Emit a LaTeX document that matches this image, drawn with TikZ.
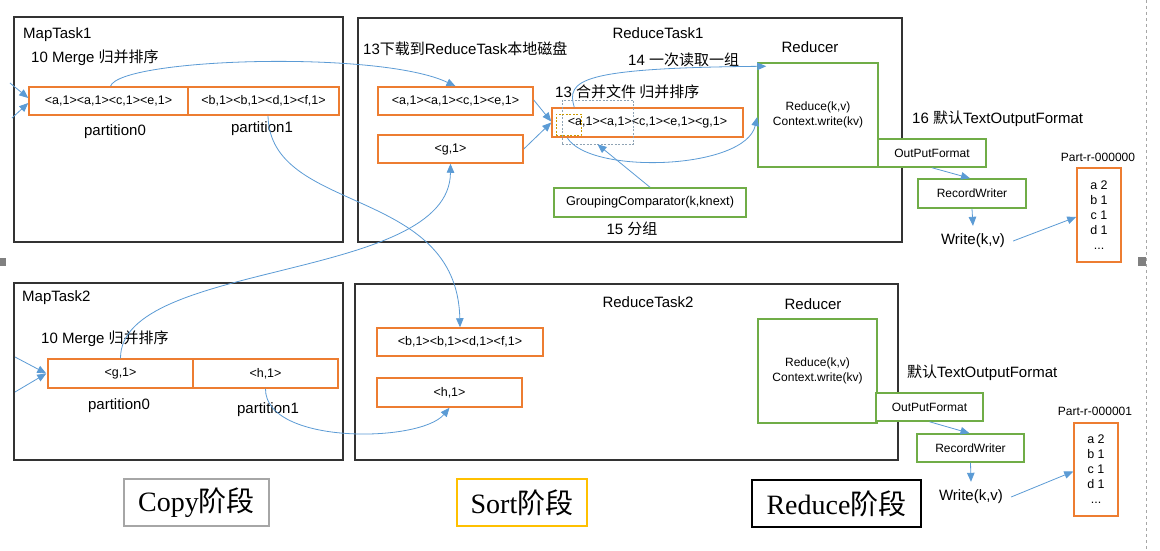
\documentclass[tikz,border=0pt]{standalone}
\usepackage{fontspec}
\setmainfont{Liberation Sans}
\newfontfamily\cjk{Noto Sans CJK SC}
\newfontfamily\serifl{Liberation Serif}
\usetikzlibrary{arrows.meta,calc}
\definecolor{bor}{HTML}{ED7D31}
\definecolor{bgr}{HTML}{70AD47}
\definecolor{bbl}{HTML}{5B9BD5}
\definecolor{bdk}{HTML}{333333}
\definecolor{bgy}{HTML}{A6A6A6}
\definecolor{byl}{HTML}{FFC000}
\begin{document}
\begin{tikzpicture}[x=1pt,y=-1pt,
  task/.style={draw=bdk,line width=1.6pt,inner sep=0pt},
  obox/.style={draw=bor,line width=1.5pt,fill=white,inner sep=0pt,font=\fontsize{12.5}{14}\selectfont},
  gbox/.style={draw=bgr,line width=1.5pt,fill=white,inner sep=0pt,font=\fontsize{12}{15}\selectfont,align=center},
  lbl/.style={inner sep=0pt,font=\fontsize{15}{18}\selectfont},
  slbl/.style={inner sep=0pt,font=\fontsize{12}{14}\selectfont},
  stage/.style={line width=1.3pt,inner sep=0pt,font=\serifl\fontsize{28}{32}\selectfont},
  conn/.style={draw=bbl,line width=0.8pt,-{Triangle[length=9pt,width=7.5pt]}},
  wr/.style={inner xsep=8pt,inner ysep=8pt,font=\fontsize{15}{18}\selectfont},
  part/.style={draw=bor,line width=1.5pt,inner sep=0pt,align=center,font=\fontsize{12.5}{15}\selectfont}]
\useasboundingbox (0,0) rectangle (1160,551);
\fill[white] (0,0) rectangle (1160,551);
% side marks
\draw[bgy,line width=0.8pt,dashed,dash pattern=on 3pt off 3pt] (1146,0) -- (1146,551);
\fill[gray] (0,258) rectangle (6,266);
\fill[gray] (1138,257) rectangle (1146,266);

% ---------- task frames ----------
\node[task,minimum width=329pt,minimum height=225pt] (mt1) at (178.5,129.5) {};
\node[task,minimum width=544pt,minimum height=224pt] (rt1) at (630,130) {};
\node[task,minimum width=329pt,minimum height=177pt] (mt2) at (178.5,371.5) {};
\node[task,minimum width=543pt,minimum height=176pt] (rt2) at (626.5,372) {};

% ---------- MapTask1 ----------
\node[lbl,anchor=west] (mt1t) at (23,35) {MapTask1};
\node[lbl,anchor=west] (mt1m) at (31,58) {10 Merge {\cjk 归并排序}};
\node[obox,minimum width=159pt,minimum height=28pt] (p10) at (108.5,101) {<a,1><a,1><c,1><e,1>};
\node[obox,minimum width=151pt,minimum height=28pt] (p11) at (263.5,101) {<b,1><b,1><d,1><f,1>};
\node[lbl] (p10t) at (115,132) {partition0};
\node[lbl] (p11t) at (262,129) {partition1};
\coordinate (l1) at (10,83);
\coordinate (l2) at (12,118);
\draw[conn] (l1) -- ([yshift=3pt]p10.west);
\draw[conn] (l2) -- ([yshift=-2pt]p10.west);

% ---------- MapTask2 ----------
\node[lbl,anchor=west] (mt2t) at (22,298) {MapTask2};
\node[lbl,anchor=west] (mt2m) at (41,339) {10 Merge {\cjk 归并排序}};
\node[obox,minimum width=145pt,minimum height=29pt] (p20) at (120.5,373.5) {<g,1>};
\node[obox,minimum width=145pt,minimum height=29pt] (p21) at (265.5,373.5) {<h,1>};
\node[lbl] (p20t) at (119,406) {partition0};
\node[lbl] (p21t) at (268,410) {partition1};
\coordinate (l3) at (15,357);
\coordinate (l4) at (15,392);
\draw[conn] (l3) -- ([xshift=-1pt]p20.west);
\draw[conn] (l4) -- ([xshift=-1pt]p20.west);

% ---------- ReduceTask1 ----------
\node[lbl] (rt1t) at (658,33) {ReduceTask1};
\node[lbl,anchor=west] (dl) at (363,49) {13{\cjk 下载到}ReduceTask{\cjk 本地磁盘}};
\node[lbl,anchor=west] (rd14) at (628,60) {14 {\cjk 一次读取一组}};
\node[lbl,anchor=west] (mg13) at (555,92) {13 {\cjk 合并文件 归并排序}};
\node[obox,minimum width=155pt,minimum height=28pt] (r1a) at (455.5,101) {<a,1><a,1><c,1><e,1>};
\node[obox,minimum width=145pt,minimum height=28pt] (r1g) at (450.5,149) {<g,1>};
\node[obox,minimum width=191pt,minimum height=29pt] (mg) at (647.5,122.5) {<a,1><a,1><c,1><e,1><g,1>};
\node[draw=bgy!70!bbl,line width=0.6pt,dashed,dash pattern=on 2pt off 1.5pt,minimum width=71pt,minimum height=44pt,inner sep=0pt] (dsh) at (597.5,122) {};
\node[draw=byl!80!black,line width=0.6pt,dashed,dash pattern=on 2pt off 1.5pt,minimum width=25pt,minimum height=21pt,inner sep=0pt] (ysh) at (568.5,124.5) {};
\node[gbox,minimum width=192pt,minimum height=29pt,font=\fontsize{12.7}{15}\selectfont] (gc) at (650,202.5) {GroupingComparator(k,knext)};
\node[lbl] (fz) at (632,229) {15 {\cjk 分组}};
\node[lbl] (red1t) at (810,47) {Reducer};
\node[gbox,minimum width=120pt,minimum height=104pt] (red1) at (818,115) {Reduce(k,v)\\Context.write(kv)};
\node[lbl,anchor=west] (tof1) at (912,119) {16 {\cjk 默认}TextOutputFormat};
\node[gbox,minimum width=108pt,minimum height=28pt] (opf1) at (932,153) {OutPutFormat};
\node[gbox,minimum width=108pt,minimum height=29pt] (rw1) at (972,193.5) {RecordWriter};
\node[wr] (w1) at (973,241) {Write(k,v)};
\node[slbl] (pr1t) at (1098,157) {Part-r-000000};
\node[part,minimum width=44pt,minimum height=94pt] (pr1) at (1099,215) {a 2\\b 1\\c 1\\d 1\\...};

% ---------- ReduceTask2 ----------
\node[lbl] (rt2t) at (648,302) {ReduceTask2};
\node[obox,minimum width=166pt,minimum height=28pt] (r2b) at (460,342) {<b,1><b,1><d,1><f,1>};
\node[obox,minimum width=145pt,minimum height=29pt] (r2h) at (449.5,392.5) {<h,1>};
\node[lbl] (red2t) at (813,304) {Reducer};
\node[gbox,minimum width=119pt,minimum height=104pt] (red2) at (817.5,371) {Reduce(k,v)\\Context.write(kv)};
\node[lbl,anchor=west] (tof2) at (907,373) {{\cjk 默认}TextOutputFormat};
\node[gbox,minimum width=107pt,minimum height=28pt] (opf2) at (929.5,407) {OutPutFormat};
\node[gbox,minimum width=107pt,minimum height=28pt] (rw2) at (970.5,448) {RecordWriter};
\node[wr] (w2) at (971,497) {Write(k,v)};
\node[slbl] (pr2t) at (1095,411) {Part-r-000001};
\node[part,minimum width=44pt,minimum height=93pt] (pr2) at (1096,469.5) {a 2\\b 1\\c 1\\d 1\\...};

% ---------- connectors ----------
\draw[conn] ([xshift=2pt]p10.north) .. controls (120,58) and (380,50) .. (r1a.north);
\draw[conn] ([xshift=4.5pt]p11.south) .. controls (270,215) and (457,185) .. (r2b.north);
\draw[conn] (p20.north) .. controls (120,260) and (450,282) .. (r1g.south);
\draw[conn] (p21.south) .. controls (265,445) and (420,443) .. (r2h.south);
\draw[conn] ([yshift=1pt]r1a.east) -- ([yshift=1pt]mg.west);
\draw[conn] (r1g.east) -- (mg.west);
\draw[conn] ([xshift=23pt]mg.north west) .. controls (566,80) and (580,68) .. ([xshift=9pt,yshift=-4pt]red1.north west);
\draw[conn] ([xshift=16pt]mg.south west) .. controls (590,175) and (745,170) .. ([yshift=-2pt]red1.west);
\draw[conn] (gc.north) -- (dsh.south);
\draw[conn] (opf1.south) -- ([xshift=-2pt]rw1.north);
\draw[conn] (rw1.south) -- (w1.north);
\draw[conn] (w1.east) -- ([yshift=-2pt]pr1.west);
\draw[conn] (opf2.south) -- ([xshift=-1pt]rw2.north);
\draw[conn] (rw2.south) -- (w2.north);
\draw[conn] (w2.east) -- ([yshift=-2pt]pr2.west);

% ---------- stage labels ----------
\node[stage,draw=bgy,minimum width=145pt,minimum height=47pt] (cp) at (196.5,502.5) {Copy{\cjk 阶段}};
\node[stage,draw=byl,minimum width=130pt,minimum height=47pt] (st) at (522,502.5) {Sort{\cjk 阶段}};
\node[stage,draw=black,minimum width=169pt,minimum height=47pt] (rd) at (836.5,503.5) {Reduce{\cjk 阶段}};
\end{tikzpicture}
\end{document}
